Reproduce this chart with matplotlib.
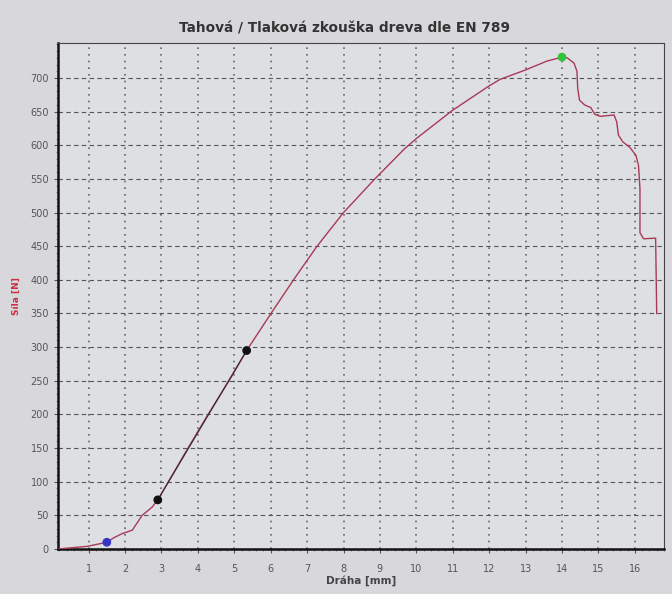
import matplotlib
matplotlib.use("Agg")
import matplotlib.pyplot as plt
from matplotlib.ticker import MultipleLocator

# Data
draha_mm = [0.16, 0.97, 1.5, 1.7, 1.93, 2.2, 2.47, 2.74, 2.9, 3.73, 4.27, 4.9, 5.34,
            6.02, 6.64, 7.26, 8.0, 8.86, 9.68, 10.0, 10.97, 11.99, 12.3, 13.0, 13.58,
            14.0, 14.14, 14.33, 14.41, 14.43, 14.48, 14.62, 14.79, 14.9, 15.05, 15.43,
            15.5, 15.55, 15.67, 15.86, 16.03, 16.1, 16.14, 16.14, 16.24, 16.57, 16.6]
sila_n = [0, 4, 10, 17, 23, 28, 50, 62, 73, 150, 199, 254, 295,
          351, 401, 449, 500, 550, 595, 610, 651, 688, 698, 712, 725,
          731, 730, 722, 710, 685, 667, 660, 656, 646, 643, 645,
          635, 615, 605, 597, 585, 570, 535, 470, 461, 462, 350]

marker_x = [1.5, 2.9, 5.34, 14.0]
marker_y = [10, 73, 295, 731]
marker_colors = ["#3535c8", "#111111", "#111111", "#2fc43a"]

# straight line between the two black points (modulus range)
fit_x = [2.9, 5.34]
fit_y = [73, 295]

x_ticks = list(range(1, 17))
y_ticks = list(range(0, 701, 50))

title = "Tahová / Tlaková zkouška dreva dle EN 789"
xlabel = "Dráha [mm]"
ylabel = "Síla [N]"

fig = plt.figure(figsize=(6.72, 5.94), dpi=100, facecolor="#d8d8dc")
ax = fig.add_axes([58/672, 1-549/594, (664-58)/672, (549-43)/594])
ax.set_facecolor("#dedfe3")

ax.plot(draha_mm, sila_n, color="#a83a55", lw=1.0, zorder=3)
ax.plot(fit_x, fit_y, color="#222222", lw=0.9, alpha=0.8, zorder=3.5)
ax.scatter(marker_x, marker_y, c=marker_colors, s=28, zorder=4)

ax.set_xlim(0.16, 16.8)
ax.set_ylim(0, 752)
ax.set_xticks(x_ticks)
ax.set_yticks(y_ticks)
ax.xaxis.set_minor_locator(MultipleLocator(0.2))
ax.yaxis.set_minor_locator(MultipleLocator(10))

ax.grid(axis="y", which="major", color="#555555", ls=(0, (4, 3)), lw=0.8)
ax.grid(axis="x", which="major", color="#666666", ls=(0, (1, 3)), lw=1.2)

for s in ["left", "bottom"]:
    ax.spines[s].set_color("#111111")
    ax.spines[s].set_linewidth(1.8)
for s in ["top", "right"]:
    ax.spines[s].set_color("#444444")
    ax.spines[s].set_linewidth(0.8)

ax.tick_params(axis="both", which="major", labelsize=7, colors="#555555",
               labelcolor="#555555", length=3, direction="out")
ax.tick_params(axis="both", which="minor", length=1.5, colors="#777777", direction="out")
ax.tick_params(axis="x", pad=8)

ax.set_xlabel(xlabel, fontsize=7.5, fontweight="bold", color="#444444", labelpad=1)
ax.set_ylabel(ylabel, fontsize=6.5, fontweight="bold", color="#cc3040", labelpad=7)
fig.text(345/672, 1-28/594, title, ha="center", va="center", fontsize=9.8,
         fontweight="bold", color="#333333")

fig.savefig("out.png", dpi=100, facecolor=fig.get_facecolor())
